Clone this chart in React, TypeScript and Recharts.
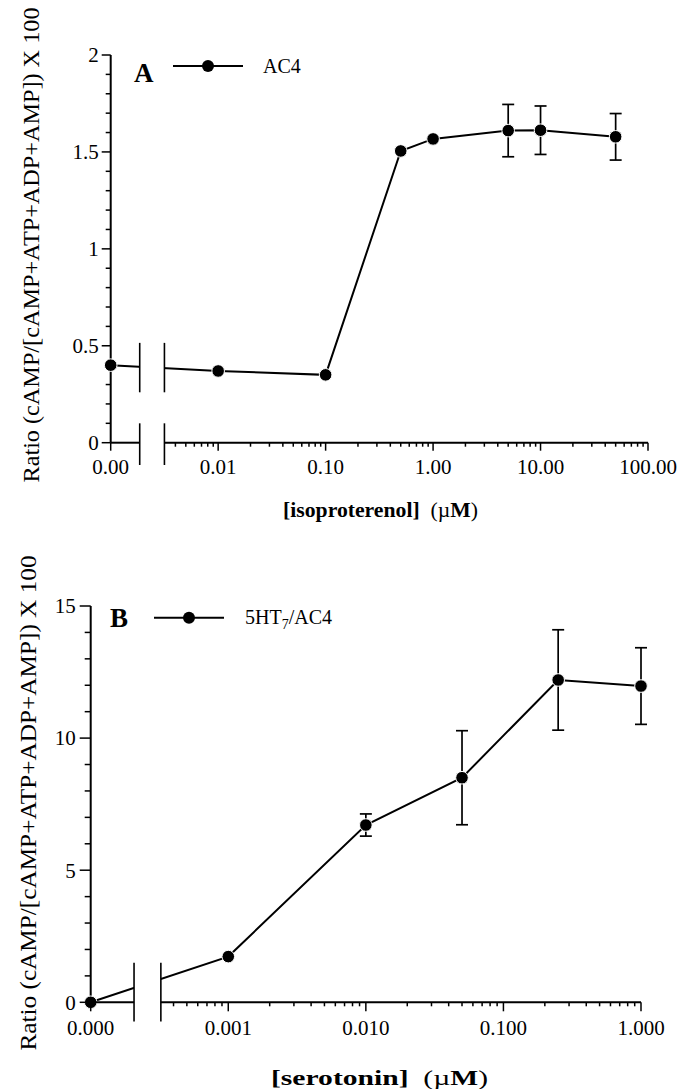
import { LineChart, Line, XAxis, YAxis, ErrorBar, ReferenceLine, ReferenceArea } from 'recharts'

const FONT = '"Liberation Serif", "Times New Roman", serif'
const W = 692

// Panel A: AC4, isoproterenol (µM)
const isoConc = [0, 0.01, 0.1, 0.5, 1, 5, 10, 50]
const isoRatio = [0.4, 0.37, 0.35, 1.505, 1.567, 1.61, 1.612, 1.578]
const isoErr = [null, null, null, null, null, 0.135, 0.125, 0.12]
const isoTickLabels = ['0.00', '0.01', '0.10', '1.00', '10.00', '100.00']
const isoYMajor = [0, 0.5, 1, 1.5, 2]
const isoYMinor = [0.1, 0.2, 0.3, 0.4, 0.6, 0.7, 0.8, 0.9, 1.1, 1.2, 1.3, 1.4, 1.6, 1.7, 1.8, 1.9]

// Panel B: 5HT7/AC4, serotonin (µM)
const seroConc = [0, 0.001, 0.01, 0.05, 0.25, 1]
const seroRatio = [0, 1.73, 6.71, 8.5, 12.2, 11.97]
const seroErr = [null, null, 0.42, 1.78, 1.9, 1.45]
const seroTickLabels = ['0.000', '0.001', '0.010', '0.100', '1.000']
const seroYMajor = [0, 5, 10, 15]
const seroYMinor = [1, 2, 3, 4, 6, 7, 8, 9, 11, 12, 13, 14]

// minor log ticks: 2..9 in each decade, starting at `firstK` in the first decade
function logMinor(fromDecade: number, toDecade: number, firstK: number) {
  const out: number[] = []
  for (let d = fromDecade; d < toDecade; d++) {
    for (let k = d === fromDecade ? firstK : 2; k <= 9; k++) out.push(Math.log10(k) + d)
  }
  return out
}

type PanelProps = {
  conc: number[]
  ratio: number[]
  err: (number | null)[]
  tickLabels: string[]
  yMajor: number[]
  yMinor: number[]
  zeroPos: number
  minorFirstK: number
  breakL: number
  breakR: number
  breakMarks: [number, number][]
  height: number
  plot: { left: number; top: number; right: number; bottom: number }
  yTickLen: [number, number]
  yLabelGap: number
  xTickLen: [number, number]
  xLabelDy: number
  yTitle: { x: number; y: number; len: number }
  xTitle: { x: number; y: number; len: number; name: string }
  legend: { letter: string; lx: number; ly: number; x1: number; x2: number; y: number; tx: number; ty: number; name: React.ReactNode }
}

function Panel(p: PanelProps) {
  const data = p.conc.map((c, i) => ({
    pos: c === 0 ? p.zeroPos : Math.log10(c),
    ratio: p.ratio[i],
    err: p.err[i],
  }))
  const xMajor = p.tickLabels.map((_, i) => p.zeroPos + i)
  const maxPos = xMajor[xMajor.length - 1]
  const xMinor = logMinor(p.zeroPos + 1, maxPos, 2).concat(logMinor(p.zeroPos, p.zeroPos + 1, p.minorFirstK))
  const yMax = p.yMajor[p.yMajor.length - 1]

  const xAxisH = 40
  const margin = {
    left: 0,
    top: p.plot.top,
    right: W - p.plot.right,
    bottom: p.height - p.plot.bottom - xAxisH,
  }

  const xTick = (props: any) => {
    const { x, y, payload } = props
    const i = xMajor.findIndex((v) => Math.abs(v - payload.value) < 1e-9)
    const major = i >= 0
    return (
      <g>
        <line x1={x} x2={x} y1={y} y2={y + (major ? p.xTickLen[0] : p.xTickLen[1])} stroke="#000" strokeWidth={1.5} />
        {major && (
          <text x={x} y={y + p.xLabelDy} textAnchor="middle" fontFamily={FONT} fontSize={21} fill="#000">
            {p.tickLabels[i]}
          </text>
        )}
      </g>
    )
  }

  const yTick = (props: any) => {
    const { x, y, payload } = props
    const major = p.yMajor.includes(payload.value)
    return (
      <g>
        <line x1={x} x2={x - (major ? p.yTickLen[0] : p.yTickLen[1])} y1={y} y2={y} stroke="#000" strokeWidth={1.5} />
        {major && (
          <text x={x - p.yLabelGap} y={y} dy="0.35em" textAnchor="end" fontFamily={FONT} fontSize={21} fill="#000">
            {payload.value}
          </text>
        )}
      </g>
    )
  }

  const dot = (props: any) => (
    <circle key={props.index} cx={props.cx} cy={props.cy} r={6.3} fill="#000" stroke="#fff" strokeWidth={1} />
  )

  const lg = p.legend
  return (
    <div style={{ position: 'relative', width: W, height: p.height }}>
      <LineChart width={W} height={p.height} data={data} margin={margin}>
        <XAxis
          type="number"
          dataKey="pos"
          domain={[p.zeroPos, maxPos]}
          ticks={[...xMajor, ...xMinor]}
          interval={0}
          height={xAxisH}
          axisLine={false}
          tickLine={false}
          tickSize={0}
          tickMargin={0}
          tick={xTick}
        />
        <YAxis
          type="number"
          domain={[0, yMax]}
          ticks={[...p.yMajor, ...p.yMinor]}
          interval={0}
          width={p.plot.left}
          axisLine={{ stroke: '#000', strokeWidth: 2 }}
          tickLine={false}
          tickSize={0}
          tickMargin={0}
          tick={yTick}
        />
        <Line dataKey="ratio" stroke="#000" strokeWidth={2} dot={dot} isAnimationActive={false}>
          <ErrorBar dataKey="err" width={6} stroke="#000" strokeWidth={1.7} direction="y" />
        </Line>
        <ReferenceArea
          x1={p.breakL}
          x2={p.breakR}
          y1={0}
          y2={yMax}
          fill="#fff"
          fillOpacity={1}
          stroke="none"
          ifOverflow="visible"
          {...({ zIndex: 1000 } as any)}
        />
        <ReferenceLine segment={[{ x: p.zeroPos, y: 0 }, { x: p.breakL, y: 0 }]} stroke="#000" strokeWidth={2} ifOverflow="visible" {...({ zIndex: 1100 } as any)} />
        <ReferenceLine segment={[{ x: p.breakR, y: 0 }, { x: maxPos, y: 0 }]} stroke="#000" strokeWidth={2} ifOverflow="visible" {...({ zIndex: 1100 } as any)} />
        {p.breakMarks.map(([y1, y2], i) => (
          <ReferenceLine key={'l' + i} segment={[{ x: p.breakL, y: y1 }, { x: p.breakL, y: y2 }]} stroke="#000" strokeWidth={1.6} ifOverflow="visible" {...({ zIndex: 1100 } as any)} />
        ))}
        {p.breakMarks.map(([y1, y2], i) => (
          <ReferenceLine key={'r' + i} segment={[{ x: p.breakR, y: y1 }, { x: p.breakR, y: y2 }]} stroke="#000" strokeWidth={1.6} ifOverflow="visible" {...({ zIndex: 1100 } as any)} />
        ))}
      </LineChart>
      <svg width={W} height={p.height} style={{ position: 'absolute', left: 0, top: 0, pointerEvents: 'none' }}>
        <text
          transform={`translate(${p.yTitle.x},${p.yTitle.y}) rotate(-90)`}
          textAnchor="middle"
          dominantBaseline="central"
          fontFamily={FONT}
          fontSize={24}
          textLength={p.yTitle.len}
          lengthAdjust="spacingAndGlyphs"
        >
          Ratio (cAMP/[cAMP+ATP+ADP+AMP]) X 100
        </text>
        <text
          x={p.xTitle.x}
          y={p.xTitle.y}
          fontFamily={FONT}
          fontSize={22}
          textLength={p.xTitle.len}
          lengthAdjust="spacingAndGlyphs"
          style={{ whiteSpace: 'pre' }}
        >
          <tspan fontWeight="bold">{p.xTitle.name}</tspan>
          {'  ('}
          <tspan>µ</tspan>
          <tspan fontWeight="bold">M</tspan>
          {')'}
        </text>
        <text x={lg.lx} y={lg.ly} fontFamily={FONT} fontSize={27} fontWeight="bold">
          {lg.letter}
        </text>
        <line x1={lg.x1} x2={lg.x2} y1={lg.y} y2={lg.y} stroke="#000" strokeWidth={2} />
        <circle cx={(lg.x1 + lg.x2) / 2} cy={lg.y} r={6} fill="#000" />
        <text x={lg.tx} y={lg.ty} fontFamily={FONT} fontSize={20}>
          {lg.name}
        </text>
      </svg>
    </div>
  )
}

export default function App() {
  return (
    <div style={{ position: 'absolute', left: 0, top: 0, width: W, background: '#fff' }}>
      <Panel
        conc={isoConc}
        ratio={isoRatio}
        err={isoErr}
        tickLabels={isoTickLabels}
        yMajor={isoYMajor}
        yMinor={isoYMinor}
        zeroPos={-3}
        minorFirstK={4}
        breakL={-2.73}
        breakR={-2.5}
        breakMarks={[[0.26, 0.515], [-0.115, 0.1]]}
        height={540}
        plot={{ left: 110.7, top: 55, right: 648, bottom: 442.7 }}
        yTickLen={[9, 5]}
        yLabelGap={12}
        xTickLen={[8, 4]}
        xLabelDy={31}
        yTitle={{ x: 31, y: 245, len: 475 }}
        xTitle={{ x: 283, y: 517, len: 195, name: '[isoproterenol]' }}
        legend={{ letter: 'A', lx: 134, ly: 81.7, x1: 173, x2: 243, y: 66, tx: 263, ty: 73.3, name: 'AC4' }}
      />
      <Panel
        conc={seroConc}
        ratio={seroRatio}
        err={seroErr}
        tickLabels={seroTickLabels}
        yMajor={seroYMajor}
        yMinor={seroYMinor}
        zeroPos={-4}
        minorFirstK={4}
        breakL={-3.685}
        breakR={-3.49}
        breakMarks={[[-0.73, 1.5]]}
        height={549}
        plot={{ left: 90.7, top: 66, right: 641, bottom: 462.3 }}
        yTickLen={[11, 6]}
        yLabelGap={15}
        xTickLen={[9, 4]}
        xLabelDy={33}
        yTitle={{ x: 27.5, y: 263, len: 495 }}
        xTitle={{ x: 271, y: 545, len: 217, name: '[serotonin]' }}
        legend={{
          letter: 'B',
          lx: 110,
          ly: 87.3,
          x1: 154,
          x2: 224,
          y: 77.7,
          tx: 245,
          ty: 84,
          name: (
            <>
              5HT<tspan fontSize={14} dy={5}>7</tspan>
              <tspan dy={-5}>/AC4</tspan>
            </>
          ),
        }}
      />
    </div>
  )
}
